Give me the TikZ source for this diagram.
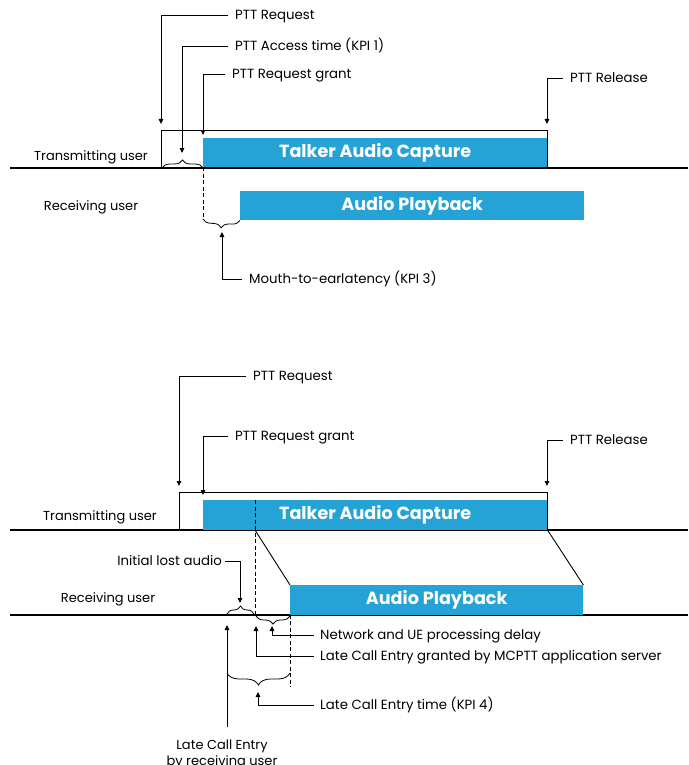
\documentclass[tikz,border=0pt]{standalone}
\usepackage{fontspec}
\setmainfont{Poppins}
\usetikzlibrary{arrows.meta,decorations.pathreplacing}
\definecolor{capblue}{RGB}{38,163,214}
\begin{document}
\begin{tikzpicture}[x=1pt,y=-1pt,
  lbl/.style={font=\fontsize{13.3}{15}\selectfont,inner xsep=7pt,inner ysep=1pt,
    text height=9.4pt,text depth=0pt},
  userlbl/.style={font=\fontsize{13}{15.5}\selectfont,inner sep=0pt},
  bar/.style={fill=capblue,draw=none,anchor=north west,inner sep=0pt,
    text=white,font=\fontsize{17.6}{20}\selectfont\bfseries},
  timeline/.style={line width=1.6pt},
  frame/.style={line width=0.9pt},
  pointer/.style={line width=0.9pt,-{Triangle[length=5pt,width=4.5pt]}},
  marker/.style={line width=0.9pt,dash pattern=on 4pt off 2.5pt},
  span/.style={line width=0.8pt,decorate,decoration={brace,amplitude=#1}},
  span/.default=8pt,
  slope/.style={line width=0.9pt}
]
\useasboundingbox (0,0) rectangle (688,765);

% ---------------- Mouth-to-ear latency ----------------
\draw[timeline] (10,168) -- (688,168);
\draw[frame] (161,168) -- (161,130) -- (547,130) -- (547,168);
\node[bar,minimum width=344pt,minimum height=29pt] (cap1) at (203,138) {Talker Audio Capture};
\node[bar,minimum width=344pt,minimum height=29pt] (play1) at (240,191) {Audio Playback};
\node[userlbl] (tx1) at (91,157) {Transmitting user};
\node[userlbl] (rx1) at (91,207) {Receiving user};

\node[lbl,anchor=west] (req1) at (228,15) {PTT Request};
\node[lbl,anchor=west] (acc1) at (228,46) {PTT Access time (KPI 1)};
\node[lbl,anchor=west] (grant1) at (225,74) {PTT Request grant};
\node[lbl,anchor=west] (rel1) at (563,78) {PTT Release};
\node[lbl,anchor=west] (m2e) at (242,279) {Mouth-to-earlatency (KPI 3)};

\coordinate (req1tip) at (161,124);
\coordinate (acc1tip) at (182,153);
\coordinate (grant1tip) at (203,135);
\coordinate (rel1tip) at (547,124);
\coordinate (m2etip) at (222,232);

\draw[pointer] (req1.west) -| (req1tip);
\draw[pointer] (acc1.west) -| (acc1tip);
\draw[pointer] (grant1.west) -| (grant1tip);
\draw[pointer] (rel1.west) -| (rel1tip);
\draw[pointer] (m2e.west) -| (m2etip);

\draw[span] (162,168) -- (203,168);
\draw[marker] (cap1.south west) -- (203,219);
\draw[span] (play1.south west) -- (203,219);

% ---------------- Late call entry ----------------
\draw[timeline] (10,530) -- (688,530);
\draw[timeline] (10,615) -- (688,615);
\draw[frame] (179,530) -- (179,492) -- (547,492) -- (547,530);
\node[bar,minimum width=344pt,minimum height=29.5pt] (cap2) at (203,500) {Talker Audio Capture};
\node[bar,minimum width=293pt,minimum height=29.5pt] (play2) at (290,585) {Audio Playback};
\node[userlbl] (tx2) at (100,517) {Transmitting user};
\node[userlbl] (rx2) at (108,599) {Receiving user};

\draw[slope] (255,530) -- (play2.north west);
\draw[slope] (cap2.south east) -- (play2.north east);
\draw[marker] (255,500) -- (255,615);
\draw[marker] (play2.south west) -- (290,687);

\node[lbl,anchor=west] (req2) at (246,376) {PTT Request};
\node[lbl,anchor=west] (grant2) at (228,436) {PTT Request grant};
\node[lbl,anchor=west] (rel2) at (563,440) {PTT Release};
\node[lbl,anchor=east,inner xsep=3pt] (lost) at (225,561) {Initial lost audio};
\node[lbl,anchor=west,inner xsep=6pt] (net) at (314,635) {Network and UE processing delay};
\node[lbl,anchor=west,inner xsep=6pt] (granted) at (314,656) {Late Call Entry granted by MCPTT application server};
\node[lbl,anchor=west,inner xsep=6pt] (lcet) at (314,705) {Late Call Entry time (KPI 4)};
\node[userlbl,align=center,anchor=north] (late) at (222,740) {Late Call Entry\\by receiving user};

\coordinate (req2tip) at (179,486);
\coordinate (grant2tip) at (203,495);
\coordinate (rel2tip) at (547,486);
\coordinate (losttip) at (240,603);
\coordinate (nettip) at (272,626);
\coordinate (grantedtip) at (256,626);
\coordinate (lcettip) at (258,692);
\coordinate (latetail) at (227,727);
\coordinate (latetip) at (227,625);

\draw[pointer] (req2.west) -| (req2tip);
\draw[pointer] (grant2.west) -| (grant2tip);
\draw[pointer] (rel2.west) -| (rel2tip);
\draw[pointer] (lost.east) -| (losttip);
\draw[pointer] (net.west) -| (nettip);
\draw[pointer] (granted.west) -| (grantedtip);
\draw[pointer] (lcet.west) -| (lcettip);
\draw[pointer] (latetail) -- (latetip);

\draw[span] (227,614) -- (254,614);
\draw[span] (290,616) -- (256,616);
\draw[span=12pt] (290,673) -- (227,673);
\end{tikzpicture}
\end{document}
